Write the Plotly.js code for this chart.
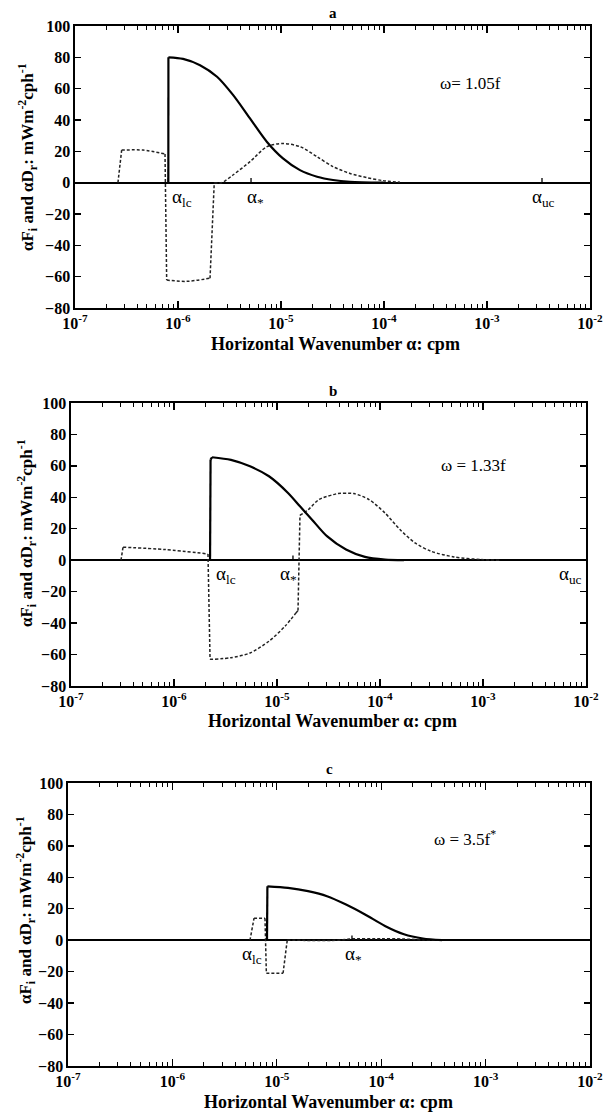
<!DOCTYPE html>
<html><head><meta charset="utf-8">
<script src="https://cdn.plot.ly/plotly-3.0.1.min.js"></script>
<style>html,body{margin:0;padding:0;background:#fff}#chart{width:603px;height:1115px}</style>
</head><body><div id="chart"></div>
<script>
// ---- data (x given as log10 of wavenumber in cpm) ----
const panelNames = ['a', 'b', 'c'];
const omegaLabels = ['ω= 1.05f', 'ω = 1.33f', 'ω = 3.5f<sup>*</sup>'];

const solidA_logx = [-6.094, -6.093, -5.951, -5.786, -5.621, -5.466, -5.301, -5.136, -4.981, -4.816, -4.650, -4.495, -4.330, -4.010];
const solidA_y    = [0, 80, 79, 75, 67.6, 56, 41, 26, 15.5, 8, 3.8, 1.7, 0.6, 0];
const dashA_logx  = [-6.583, -6.547, -6.340, -6.126, -6.110, -5.916, -5.689, -5.648, -5.576, -5.466, -5.301, -5.136, -4.981, -4.816, -4.650, -4.495, -4.330, -4.165, -4.010, -3.845];
const dashA_y     = [0, 20.8, 20.8, 18.3, -62.2, -63, -61, 0, 0, 4.9, 13.4, 23, 25, 23, 16.6, 10.2, 5.9, 3.2, 1.3, 0.3];

const solidB_logx = [-5.650, -5.645, -5.631, -5.447, -5.262, -5.078, -4.893, -4.777, -4.660, -4.515, -4.330, -4.146, -3.951, -3.767];
const solidB_y    = [0, 64, 65.5, 63.8, 59.7, 53.4, 42.8, 34.3, 25.8, 15.3, 6.8, 2.1, 0.4, 0];
const dashB_logx  = [-6.515, -6.495, -6.087, -5.670, -5.650, -5.602, -5.447, -5.262, -5.078, -4.922, -4.816, -4.796, -4.777, -4.699, -4.592, -4.408, -4.360, -4.252, -4.107, -3.951, -3.806, -3.660, -3.505, -3.282, -3.019, -2.835];
const dashB_y     = [0, 8.3, 6.8, 4.0, -63, -63, -62, -59, -51.5, -42, -33.5, -32, 28.6, 32, 38.6, 42.5, 42.6, 42.4, 38.6, 30, 19.5, 11, 5.7, 2.1, 0.4, 0];

const solidC_logx = [-5.094, -5.090, -4.893, -4.701, -4.519, -4.337, -4.155, -3.964, -3.782, -3.600, -3.418];
const solidC_y    = [0, 34.3, 33.3, 31.2, 28, 22.7, 16.4, 9.1, 3.8, 1.1, 0];
const dashC_logx  = [-5.257, -5.218, -5.113, -5.100, -4.940, -4.900, -4.410, -4.300, -4.000, -3.800, -3.600, -3.450];
const dashC_y     = [0, 14, 14, -21, -21, 0, 0, 0.8, 1, 0.8, 0.3, 0];

// alpha markers: [label, tick position (log10), label position (log10)]
const alphaA = [['α<sub>lc</sub>', -6.094, -5.96], ['α<sub>*</sub>', -5.291, -5.25], ['α<sub>uc</sub>', -2.466, -2.456]];
const alphaB = [['α<sub>lc</sub>', -5.650, -5.495], ['α<sub>*</sub>', -4.845, -4.893], ['α<sub>uc</sub>', null, -2.146]];
const alphaC = [['α<sub>lc</sub>', -5.094, -5.238], ['α<sub>*</sub>', -4.280, -4.270]];
const omegaPos = [[-3.165, 63], [-3.09, 60], [-3.2, 65]];

const xTickExp = [-7, -6, -5, -4, -3, -2];
const xMinorMult = [2, 3, 4, 5, 6, 7, 8, 9];
const yTickVals = [-80, -60, -40, -20, 0, 20, 40, 60, 80, 100];

// ---- layout geometry (pixels) ----
const W = 603, H = 1115;
const panels = [
  {x0: 75, x1: 590, y0: 26, y1: 308, title: [333, 13], ytitle: [27, 157], xtitle: [335, 344]},
  {x0: 71, x1: 586, y0: 403, y1: 686, title: [333, 391], ytitle: [26, 533], xtitle: [332, 721]},
  {x0: 68, x1: 590, y0: 783, y1: 1066, title: [329, 769], ytitle: [25, 910], xtitle: [328, 1102]}
];
const solids = [[solidA_logx, solidA_y], [solidB_logx, solidB_y], [solidC_logx, solidC_y]];
const dashes = [[dashA_logx, dashA_y], [dashB_logx, dashB_y], [dashC_logx, dashC_y]];
const alphas = [alphaA, alphaB, alphaC];

const FONT = 'Liberation Serif, Times New Roman, serif';
const pow10 = a => a.map(v => Math.pow(10, v));
const minorVals = [];
xTickExp.slice(0, -1).forEach(e => xMinorMult.forEach(m => minorVals.push(m * Math.pow(10, e))));

// split a curve into smooth runs (spline) and vertical jumps (straight)
function pieces(lx, y) {
  const segs = [];
  let run = [0];
  for (let k = 0; k < lx.length - 1; k++) {
    if (Math.abs(lx[k + 1] - lx[k]) < 0.05) {
      if (run.length > 1) segs.push({idx: run, spline: true});
      segs.push({idx: [k, k + 1], spline: false});
      run = [k + 1];
    } else run.push(k + 1);
  }
  if (run.length > 1) segs.push({idx: run, spline: true});
  return segs.map(s => ({x: pow10(s.idx.map(j => lx[j])), y: s.idx.map(j => y[j]), spline: s.spline}));
}

const traces = [];
const annotations = [];
const layout = {
  width: W, height: H, margin: {l: 0, r: 0, t: 0, b: 0},
  paper_bgcolor: '#fff', plot_bgcolor: '#fff', showlegend: false,
  font: {family: FONT, color: '#000', size: 15}
};
const tickFont = {family: FONT, size: 16, color: '#000', weight: 'bold'};

panels.forEach((p, i) => {
  const n = i === 0 ? '' : String(i + 1);
  const xa = 'x' + n, ya = 'y' + n;
  layout['xaxis' + n] = {
    type: 'log', anchor: ya, domain: [p.x0 / W, p.x1 / W], range: [-7, -2],
    tickmode: 'array', tickvals: pow10(xTickExp), ticktext: xTickExp.map(e => '10<sup>' + e + '</sup>'),
    ticks: 'inside', ticklen: 7, tickwidth: 1.3, tickcolor: '#000', ticklabeloverflow: 'allow', ticklabelstandoff: 0,
    minor: {tickmode: 'array', tickvals: minorVals, ticks: 'inside', ticklen: 4, tickwidth: 1, tickcolor: '#000', showgrid: false},
    showline: true, linecolor: '#000', linewidth: 1.6, mirror: 'allticks',
    showgrid: false, zeroline: false, tickfont: tickFont, fixedrange: true
  };
  layout['yaxis' + n] = {
    anchor: xa, domain: [1 - p.y1 / H, 1 - p.y0 / H], range: [-80, 100],
    tickmode: 'array', tickvals: yTickVals, ticks: 'inside', ticklen: 6, tickwidth: 1.3, tickcolor: '#000',
    showline: true, linecolor: '#000', linewidth: 1.6, mirror: 'allticks', ticklabeloverflow: 'allow',
    showgrid: false, zeroline: true, zerolinecolor: '#000', zerolinewidth: 2,
    tickfont: tickFont, fixedrange: true
  };
  // curves
  pieces(dashes[i][0], dashes[i][1]).forEach(s => traces.push({x: s.x, y: s.y, xaxis: xa, yaxis: ya, mode: 'lines',
    line: {color: '#222', width: 1.5, dash: '3px,2px', shape: s.spline ? 'spline' : 'linear', smoothing: 0.8}, hoverinfo: 'skip'}));
  pieces(solids[i][0], solids[i][1]).forEach(s => traces.push({x: s.x, y: s.y, xaxis: xa, yaxis: ya, mode: 'lines',
    line: {color: '#000', width: 2.2, shape: s.spline ? 'spline' : 'linear', smoothing: 0.8}, hoverinfo: 'skip'}));
  // alpha ticks and labels
  alphas[i].forEach(a => {
    if (a[1] !== null) {
      traces.push({x: pow10([a[1], a[1]]), y: [0, 3], xaxis: xa, yaxis: ya, mode: 'lines',
        line: {color: '#000', width: 1.3}, hoverinfo: 'skip'});
    }
    annotations.push({xref: xa, yref: ya, x: a[2], y: 0, xanchor: 'center', yanchor: 'top', yshift: -1, showarrow: false,
      text: a[0], font: {family: FONT, size: 19, color: '#000'}});
  });
  annotations.push({xref: xa, yref: ya, x: omegaPos[i][0], y: omegaPos[i][1], xanchor: 'center', yanchor: 'middle', showarrow: false,
    text: omegaLabels[i], font: {family: FONT, size: 17, color: '#000'}});
  // panel title
  annotations.push({xref: 'paper', yref: 'paper', x: p.title[0] / W, y: 1 - p.title[1] / H, xanchor: 'center', yanchor: 'middle', showarrow: false,
    text: '<b>' + panelNames[i] + '</b>', font: {family: FONT, size: 15, color: '#000'}});
  // y title
  annotations.push({xref: 'paper', yref: 'paper', x: p.ytitle[0] / W, y: 1 - p.ytitle[1] / H, xanchor: 'center', yanchor: 'middle', showarrow: false,
    textangle: -90, text: '<b>αF<sub>i</sub> and αD<sub>r</sub>: mWm<sup>-2</sup>cph<sup>-1</sup></b>',
    font: {family: FONT, size: 17, color: '#000'}});
  // x title
  annotations.push({xref: 'paper', yref: 'paper', x: p.xtitle[0] / W, y: 1 - p.xtitle[1] / H, xanchor: 'center', yanchor: 'middle', showarrow: false,
    text: '<b>Horizontal Wavenumber α: cpm</b>', font: {family: FONT, size: 18, color: '#000'}});
});
layout.annotations = annotations;

Plotly.newPlot('chart', traces, layout, {staticPlot: true, displayModeBar: false});
</script>
</body></html>
